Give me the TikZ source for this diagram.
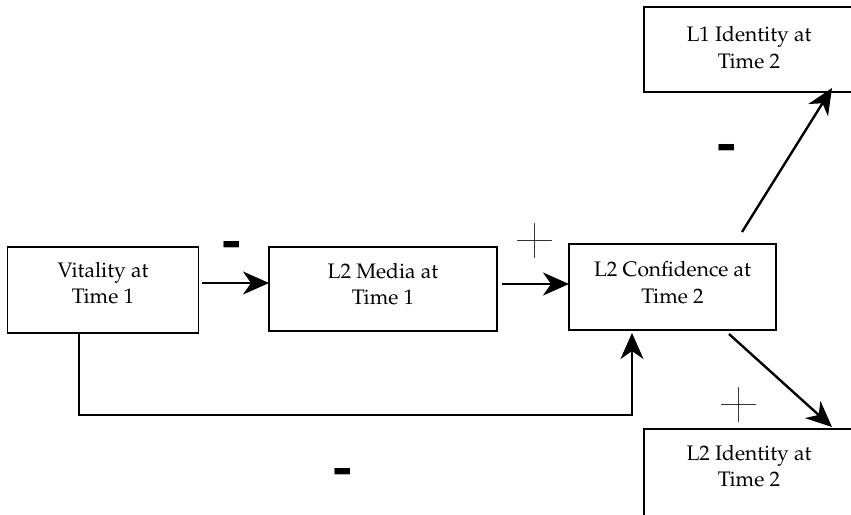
\documentclass[tikz,border=0pt]{standalone}
\usepackage[T1]{fontenc}
\usepackage{mathpazo}
\usepackage{graphicx}
\usetikzlibrary{arrows.meta}
\newcommand{\bigminus}{\scalebox{1.1}[0.9]{\fontsize{52}{52}\usefont{T1}{phv}{b}{n}-}}
\newcommand{\bigplus}{\scalebox{1.65}{\fontfamily{lmr}\fontsize{37}{37}\selectfont +}}
\tikzset{
  box/.style={draw=black, line width=1.2pt, rectangle, inner sep=0pt},
  lbl/.style={align=center, inner sep=0pt, font=\fontsize{21}{26.5}\selectfont},
  conn/.style={line width=2.4pt, -{Stealth[length=26pt,width=23pt,inset=8pt]}},
  minus/.style={inner sep=0pt},
  plus/.style={inner sep=0pt},
}
\begin{document}
\begin{tikzpicture}[x=1pt,y=-1pt]
\useasboundingbox (0,0) rectangle (851,514);
\clip (0,0) rectangle (851,514);
% boxes
\node[box, minimum width=191pt, minimum height=86pt] (v) at (103,290) {};
\node[box, minimum width=228pt, minimum height=84pt] (m) at (383,289) {};
\node[box, minimum width=207pt, minimum height=86pt] (c) at (672.5,287) {};
\node[box, minimum width=210pt, minimum height=85pt] (i1) at (749,49.5) {};
\node[box, minimum width=210pt, minimum height=100pt] (i2) at (749,479) {};
% texts
\node[lbl] (vt) at ([yshift=7pt]v.center) {Vitality at\\Time 1};
\node[lbl] (mt) at ([yshift=5pt]m.center) {L2 Media at\\Time 1};
\node[lbl] (ct) at ([yshift=4.5pt]c.center) {L2 Confidence at\\Time 2};
\node[lbl] (i1t) at ([yshift=2pt]i1.center) {L1 Identity at\\Time 2};
\node[lbl] (i2t) at (749,466) {L2 Identity at\\Time 2};
% connector ends
\coordinate (vs) at (202,283);
\coordinate (me) at (269,283);
\coordinate (ms) at (502,284);
\coordinate (ce) at (569,284);
\coordinate (vb) at (79,333);
\coordinate (cb) at (632,333);
\coordinate (c1) at (742,232);
\coordinate (e1) at (832,88);
\coordinate (c2) at (729,334);
\coordinate (e2) at (832,427);
% connectors
\draw[conn] (vs) -- (me);
\draw[conn] (ms) -- (ce);
\draw[conn] (vb) -- (79,415) -- (632,415) -- (cb);
\draw[conn] (c1) -- (e1);
\draw[conn] (c2) -- (e2);
% signs
\node[minus] (s1) at (232,250) {\bigminus};
\node[plus] (s2) at (535,241) {\bigplus};
\node[minus] (s3) at (727,153) {\bigminus};
\node[plus] (s4) at (739,405) {\bigplus};
\node[minus] (s5) at (343,477) {\bigminus};
\end{tikzpicture}
\end{document}
